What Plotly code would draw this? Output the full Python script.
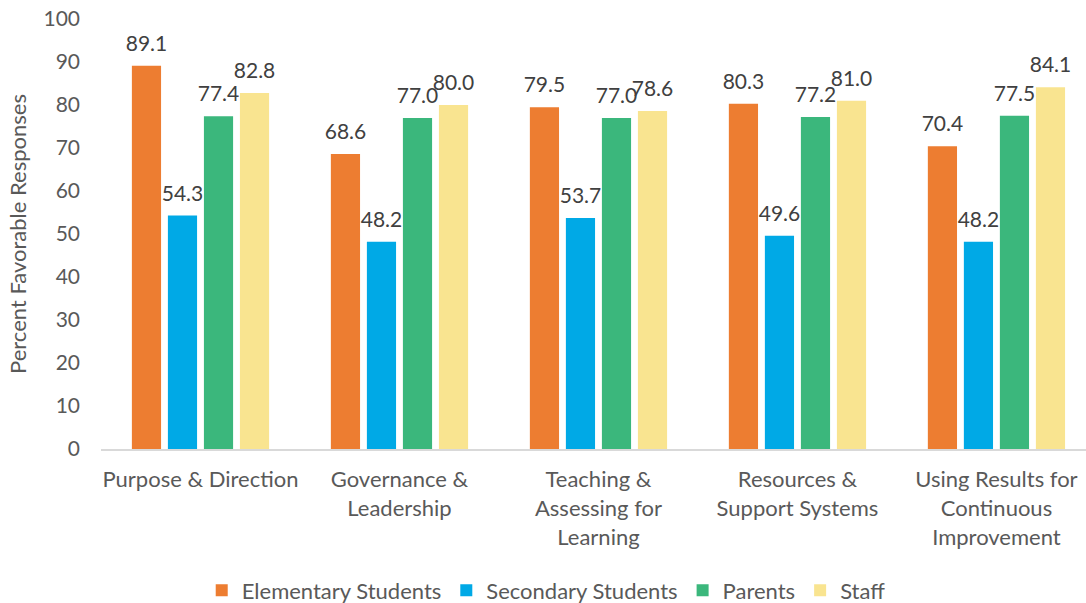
import plotly.graph_objects as go

categories = [
    "Purpose & Direction",
    "Governance &<br>Leadership",
    "Teaching &<br>Assessing for<br>Learning",
    "Resources &<br>Support Systems",
    "Using Results for<br>Continuous<br>Improvement",
]
series_names = ["Elementary Students", "Secondary Students", "Parents", "Staff"]
elementary = [89.1, 68.6, 79.5, 80.3, 70.4]
secondary = [54.3, 48.2, 53.7, 49.6, 48.2]
parents = [77.4, 77.0, 77.0, 77.2, 77.5]
staff = [82.8, 80.0, 78.6, 81.0, 84.1]
y_ticks = [0, 10, 20, 30, 40, 50, 60, 70, 80, 90, 100]

colors = ["#ED7D31", "#00A9E6", "#3BB77C", "#F9E490"]
font_family = "Lato, 'Open Sans', sans-serif"
fs = 22
xs = list(range(len(categories)))

fig = go.Figure()
for i, (name, vals, col) in enumerate(zip(series_names, [elementary, secondary, parents, staff], colors)):
    fig.add_trace(go.Bar(
        name=name, x=xs, y=vals,
        marker=dict(color=col, line=dict(width=0)),
        offsetgroup=str(i), alignmentgroup="g",
        hoverinfo="skip",
    ))
# value labels sit a little above each bar (invisible marker pads the gap)
for i, (name, vals) in enumerate(zip(series_names, [elementary, secondary, parents, staff])):
    fig.add_trace(go.Scatter(
        x=xs, y=vals, mode="markers+text",
        marker=dict(size=14, opacity=0),
        text=[f"{v:.1f}" for v in vals],
        textposition="top center",
        textfont=dict(size=21, color="#404040", family=font_family),
        offsetgroup=str(i), alignmentgroup="g",
        showlegend=False, cliponaxis=False, hoverinfo="skip",
    ))

fig.update_layout(
    width=1086, height=603,
    margin=dict(l=101, r=0, t=19, b=154, autoexpand=False),
    paper_bgcolor="white", plot_bgcolor="white",
    barmode="group", bargap=0.276, bargroupgap=0.19,
    scattermode="group", scattergap=0.276,
    font=dict(family=font_family, color="#595959", size=fs),
    showlegend=True,
    legend=dict(orientation="h", x=0.452, xanchor="center", y=-0.28, yanchor="top",
                font=dict(size=fs, color="#595959"), itemwidth=30,
                traceorder="normal"),
)
fig.update_xaxes(
    tickmode="array", tickvals=xs, ticktext=categories,
    range=[-0.5, 4.45], showline=True, linecolor="#D9D9D9", linewidth=2,
    ticks="", showgrid=False, tickfont=dict(size=fs, color="#595959"),
    ticklabelstandoff=10, automargin=False,
)
fig.update_yaxes(
    range=[0, 100], tickvals=y_ticks, showgrid=False, zeroline=False,
    showline=False, ticks="", tickfont=dict(size=21, color="#595959"),
    ticklabelstandoff=20, automargin=False,
    title=dict(text="Percent Favorable Responses", font=dict(size=fs, color="#595959"),
               standoff=10),
)

fig.write_html("out.html")
